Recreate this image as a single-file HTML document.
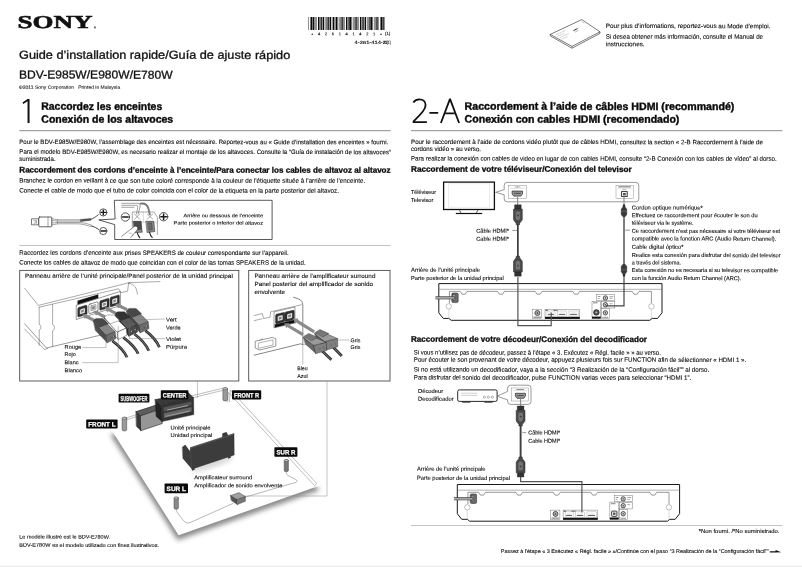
<!DOCTYPE html>
<html><head><meta charset="utf-8"><title>Guide d'installation rapide</title>
<style>
html,body{margin:0;padding:0;background:#fff;}
body{width:802px;height:567px;overflow:hidden;font-family:"Liberation Sans",sans-serif;}
svg{display:block;font-family:"Liberation Sans",sans-serif;will-change:transform;opacity:0.999;text-rendering:geometricPrecision;}
</style></head><body>
<svg width="802" height="567" viewBox="0 0 802 567">
<rect x="0" y="0" width="802" height="567" fill="#fff"/>
<rect x="0" y="565.8" width="802" height="1.2" fill="#ebebeb"/>
<text transform="translate(17.6 27.97) skewY(0.05)" font-size="18.2" font-family="Liberation Serif" stroke="#111" stroke-width="0.55" font-weight="bold" fill="#111" textLength="75.0" lengthAdjust="spacingAndGlyphs">SONY</text>
<text transform="translate(93.9 28.2) skewY(0.05)" font-size="2.6" stroke="#111" stroke-width="0.1" fill="#111">®</text>
<g shape-rendering="crispEdges"><rect x="308" y="17.3" width="1" height="12.3" fill="rgb(144,144,144)"/><rect x="310" y="17.3" width="1" height="12.3" fill="rgb(121,121,121)"/><rect x="311" y="17.3" width="1" height="12.3" fill="rgb(10,10,10)"/><rect x="312" y="17.3" width="1" height="12.3" fill="rgb(121,121,121)"/><rect x="313" y="17.3" width="1" height="12.3" fill="rgb(19,19,19)"/><rect x="314" y="17.3" width="1" height="12.3" fill="rgb(144,144,144)"/><rect x="315" y="17.3" width="1" height="12.3" fill="rgb(144,144,144)"/><rect x="316" y="17.3" width="1" height="12.3" fill="rgb(144,144,144)"/><rect x="318" y="17.3" width="1" height="12.3" fill="rgb(10,10,10)"/><rect x="319" y="17.3" width="1" height="12.3" fill="rgb(121,121,121)"/><rect x="320" y="17.3" width="1" height="12.3" fill="rgb(121,121,121)"/><rect x="321" y="17.3" width="1" height="12.3" fill="rgb(47,47,47)"/><rect x="322" y="17.3" width="1" height="12.3" fill="rgb(144,144,144)"/><rect x="323" y="17.3" width="1" height="12.3" fill="rgb(10,10,10)"/><rect x="324" y="17.3" width="1" height="12.3" fill="rgb(196,196,196)"/><rect x="325" y="17.3" width="1" height="12.3" fill="rgb(164,164,164)"/><rect x="326" y="17.3" width="1" height="12.3" fill="rgb(124,124,124)"/><rect x="327" y="17.3" width="1" height="12.3" fill="rgb(118,118,118)"/><rect x="328" y="17.3" width="1" height="12.3" fill="rgb(52,52,52)"/><rect x="329" y="17.3" width="1" height="12.3" fill="rgb(144,144,144)"/><rect x="330" y="17.3" width="1" height="12.3" fill="rgb(10,10,10)"/><rect x="331" y="17.3" width="1" height="12.3" fill="rgb(200,200,200)"/><rect x="332" y="17.3" width="1" height="12.3" fill="rgb(160,160,160)"/><rect x="333" y="17.3" width="1" height="12.3" fill="rgb(11,11,11)"/><rect x="334" y="17.3" width="1" height="12.3" fill="rgb(144,144,144)"/><rect x="335" y="17.3" width="1" height="12.3" fill="rgb(144,144,144)"/><rect x="336" y="17.3" width="1" height="12.3" fill="rgb(10,10,10)"/><rect x="337" y="17.3" width="1" height="12.3" fill="rgb(121,121,121)"/><rect x="338" y="17.3" width="1" height="12.3" fill="rgb(205,205,205)"/><rect x="339" y="17.3" width="1" height="12.3" fill="rgb(155,155,155)"/><rect x="340" y="17.3" width="1" height="12.3" fill="rgb(134,134,134)"/><rect x="341" y="17.3" width="1" height="12.3" fill="rgb(108,108,108)"/><rect x="342" y="17.3" width="1" height="12.3" fill="rgb(62,62,62)"/><rect x="343" y="17.3" width="1" height="12.3" fill="rgb(144,144,144)"/><rect x="344" y="17.3" width="1" height="12.3" fill="rgb(144,144,144)"/><rect x="346" y="17.3" width="1" height="12.3" fill="rgb(10,10,10)"/><rect x="347" y="17.3" width="1" height="12.3" fill="rgb(138,138,138)"/><rect x="348" y="17.3" width="1" height="12.3" fill="rgb(104,104,104)"/><rect x="349" y="17.3" width="1" height="12.3" fill="rgb(67,67,67)"/><rect x="350" y="17.3" width="1" height="12.3" fill="rgb(10,10,10)"/><rect x="351" y="17.3" width="1" height="12.3" fill="rgb(121,121,121)"/><rect x="352" y="17.3" width="1" height="12.3" fill="rgb(215,215,215)"/><rect x="353" y="17.3" width="1" height="12.3" fill="rgb(145,145,145)"/><rect x="354" y="17.3" width="1" height="12.3" fill="rgb(143,143,143)"/><rect x="355" y="17.3" width="1" height="12.3" fill="rgb(99,99,99)"/><rect x="356" y="17.3" width="1" height="12.3" fill="rgb(72,72,72)"/><rect x="357" y="17.3" width="1" height="12.3" fill="rgb(144,144,144)"/><rect x="358" y="17.3" width="1" height="12.3" fill="rgb(144,144,144)"/><rect x="359" y="17.3" width="1" height="12.3" fill="rgb(242,242,242)"/><rect x="360" y="17.3" width="1" height="12.3" fill="rgb(10,10,10)"/><rect x="361" y="17.3" width="1" height="12.3" fill="rgb(144,144,144)"/><rect x="362" y="17.3" width="1" height="12.3" fill="rgb(94,94,94)"/><rect x="363" y="17.3" width="1" height="12.3" fill="rgb(76,76,76)"/><rect x="364" y="17.3" width="1" height="12.3" fill="rgb(144,144,144)"/><rect x="365" y="17.3" width="1" height="12.3" fill="rgb(10,10,10)"/><rect x="366" y="17.3" width="1" height="12.3" fill="rgb(225,225,225)"/><rect x="367" y="17.3" width="1" height="12.3" fill="rgb(144,144,144)"/><rect x="368" y="17.3" width="1" height="12.3" fill="rgb(144,144,144)"/><rect x="369" y="17.3" width="1" height="12.3" fill="rgb(89,89,89)"/><rect x="370" y="17.3" width="1" height="12.3" fill="rgb(81,81,81)"/><rect x="371" y="17.3" width="1" height="12.3" fill="rgb(10,10,10)"/><rect x="372" y="17.3" width="1" height="12.3" fill="rgb(121,121,121)"/><rect x="373" y="17.3" width="1" height="12.3" fill="rgb(229,229,229)"/><rect x="374" y="17.3" width="1" height="12.3" fill="rgb(144,144,144)"/><rect x="375" y="17.3" width="1" height="12.3" fill="rgb(144,144,144)"/><rect x="376" y="17.3" width="1" height="12.3" fill="rgb(84,84,84)"/><rect x="377" y="17.3" width="1" height="12.3" fill="rgb(86,86,86)"/><rect x="378" y="17.3" width="1" height="12.3" fill="rgb(144,144,144)"/><rect x="380" y="17.3" width="1" height="12.3" fill="rgb(121,121,121)"/><rect x="381" y="17.3" width="1" height="12.3" fill="rgb(10,10,10)"/><rect x="382" y="17.3" width="1" height="12.3" fill="rgb(103,103,103)"/><rect x="383" y="17.3" width="1" height="12.3" fill="rgb(68,68,68)"/><rect x="384" y="17.3" width="1" height="12.3" fill="rgb(144,144,144)"/></g>
<text transform="translate(312.3 36.2) skewY(0.05)" font-size="4.0" stroke="#111" stroke-width="0.12" fill="#111" text-anchor="middle">*</text>
<text transform="translate(319.2 35.3) skewY(0.05)" font-size="4.0" stroke="#111" stroke-width="0.12" fill="#111" text-anchor="middle">4</text>
<text transform="translate(326.0 35.3) skewY(0.05)" font-size="4.0" stroke="#111" stroke-width="0.12" fill="#111" text-anchor="middle">2</text>
<text transform="translate(332.9 35.3) skewY(0.05)" font-size="4.0" stroke="#111" stroke-width="0.12" fill="#111" text-anchor="middle">6</text>
<text transform="translate(339.8 35.3) skewY(0.05)" font-size="4.0" stroke="#111" stroke-width="0.12" fill="#111" text-anchor="middle">1</text>
<text transform="translate(346.7 35.3) skewY(0.05)" font-size="4.0" stroke="#111" stroke-width="0.12" fill="#111" text-anchor="middle">4</text>
<text transform="translate(353.5 35.3) skewY(0.05)" font-size="4.0" stroke="#111" stroke-width="0.12" fill="#111" text-anchor="middle">1</text>
<text transform="translate(360.4 35.3) skewY(0.05)" font-size="4.0" stroke="#111" stroke-width="0.12" fill="#111" text-anchor="middle">4</text>
<text transform="translate(367.3 35.3) skewY(0.05)" font-size="4.0" stroke="#111" stroke-width="0.12" fill="#111" text-anchor="middle">2</text>
<text transform="translate(374.1 35.3) skewY(0.05)" font-size="4.0" stroke="#111" stroke-width="0.12" fill="#111" text-anchor="middle">1</text>
<text transform="translate(381.0 36.2) skewY(0.05)" font-size="4.0" stroke="#111" stroke-width="0.12" fill="#111" text-anchor="middle">*</text>
<text transform="translate(385.0 35.1) skewY(0.05)" font-size="4.4" stroke="#111" stroke-width="0.15" fill="#111" textLength="5.2" lengthAdjust="spacingAndGlyphs">(1)</text>
<text transform="translate(354.6 44.09) skewY(0.05)" font-size="4.6" stroke="#111" stroke-width="0.15" fill="#111" textLength="28.2" lengthAdjust="spacingAndGlyphs">4-261-414-</text>
<text transform="translate(382.9 44.1) skewY(0.05)" font-size="4.6" stroke="#000" stroke-width="0.2" font-weight="bold" fill="#000" textLength="4.2" lengthAdjust="spacingAndGlyphs">21</text>
<text transform="translate(387.1 44.1) skewY(0.05)" font-size="4.6" stroke="#111" stroke-width="0.15" fill="#111" textLength="3.6" lengthAdjust="spacingAndGlyphs">(1)</text>
<text transform="translate(19.0 58.68) skewY(0.05)" font-size="11.6" stroke="#111" stroke-width="0.3" fill="#111" textLength="271.2" lengthAdjust="spacingAndGlyphs">Guide d’installation rapide/Guía de ajuste rápido</text>
<text transform="translate(19.0 78.53) skewY(0.05)" font-size="11.6" stroke="#111" stroke-width="0.3" fill="#111" textLength="153.6" lengthAdjust="spacingAndGlyphs">BDV-E985W/E980W/E780W</text>
<text transform="translate(19.0 88.78) skewY(0.05)" font-size="4.6" stroke="#222" stroke-width="0.1" fill="#222" textLength="55.0" lengthAdjust="spacingAndGlyphs">©2011 Sony Corporation</text>
<text transform="translate(78.2 88.78) skewY(0.05)" font-size="4.6" stroke="#222" stroke-width="0.1" fill="#222" textLength="42.0" lengthAdjust="spacingAndGlyphs">Printed in Malaysia</text>
<path d="M27.55 99.0H29.55V123H27.55V101.2L23.3 104.0L22.5 102.6Z" fill="#111"/>
<text transform="translate(41.3 109.85) skewY(0.05)" font-size="10.7" stroke="#0a0a0a" stroke-width="0.4" font-weight="bold" fill="#0a0a0a" textLength="120.9" lengthAdjust="spacingAndGlyphs">Raccordez les enceintes</text>
<text transform="translate(41.3 122.64) skewY(0.05)" font-size="10.7" stroke="#0a0a0a" stroke-width="0.4" font-weight="bold" fill="#0a0a0a" textLength="131.9" lengthAdjust="spacingAndGlyphs">Conexión de los altavoces</text>
<rect x="19.3" y="130.2" width="371.4" height="1" fill="#8c8c8c"/>
<text transform="translate(19.3 143.94) skewY(0.05)" font-size="6.3" stroke="#0a0a0a" stroke-width="0.1" fill="#0a0a0a" textLength="368.9" lengthAdjust="spacingAndGlyphs">Pour le BDV-E985W/E980W, l’assemblage des enceintes est nécessaire. Reportez-vous au « Guide d’installation des enceintes » fourni.</text>
<text transform="translate(19.3 153.84) skewY(0.05)" font-size="6.3" stroke="#0a0a0a" stroke-width="0.1" fill="#0a0a0a" textLength="371.7" lengthAdjust="spacingAndGlyphs">Para el modelo BDV-E985W/E980W, es necesario realizar el montaje de los altavoces. Consulte la “Guía de instalación de los altavoces”</text>
<text transform="translate(19.3 160.88) skewY(0.05)" font-size="6.3" stroke="#0a0a0a" stroke-width="0.1" fill="#0a0a0a" textLength="36.3" lengthAdjust="spacingAndGlyphs">suministrada.</text>
<text transform="translate(19.3 172.54) skewY(0.05)" font-size="8.1" stroke="#0a0a0a" stroke-width="0.3" font-weight="bold" fill="#0a0a0a" textLength="371.3" lengthAdjust="spacingAndGlyphs">Raccordement des cordons d’enceinte à l’enceinte/Para conectar los cables de altavoz al altavoz</text>
<text transform="translate(19.3 182.55) skewY(0.05)" font-size="6.3" stroke="#0a0a0a" stroke-width="0.1" fill="#0a0a0a" textLength="345.9" lengthAdjust="spacingAndGlyphs">Branchez le cordon en veillant à ce que son tube coloré corresponde à la couleur de l’étiquette située à l’arrière de l’enceinte.</text>
<text transform="translate(19.3 192.46) skewY(0.05)" font-size="6.3" stroke="#0a0a0a" stroke-width="0.1" fill="#0a0a0a" textLength="319.7" lengthAdjust="spacingAndGlyphs">Conecte el cable de modo que el tubo de color coincida con el color de la etiqueta en la parte posterior del altavoz.</text>
<rect x="19.3" y="245.2" width="371.4" height="0.6" fill="#9a9a9a"/>
<text transform="translate(19.3 254.78) skewY(0.05)" font-size="6.3" stroke="#0a0a0a" stroke-width="0.1" fill="#0a0a0a" textLength="269.3" lengthAdjust="spacingAndGlyphs">Raccordez les cordons d’enceinte aux prises SPEAKERS de couleur correspondante sur l’appareil.</text>
<text transform="translate(19.3 264.58) skewY(0.05)" font-size="6.3" stroke="#0a0a0a" stroke-width="0.1" fill="#0a0a0a" textLength="286.3" lengthAdjust="spacingAndGlyphs">Conecte los cables de altavoz de modo que coincidan con el color de las tomas SPEAKERS de la unidad.</text>
<text transform="translate(19.3 538.56) skewY(0.05)" font-size="5.2" stroke="#0a0a0a" stroke-width="0.1" fill="#0a0a0a" textLength="90.7" lengthAdjust="spacingAndGlyphs">Le modèle illustré est le BDV-E780W.</text>
<text transform="translate(19.3 546.84) skewY(0.05)" font-size="5.2" stroke="#0a0a0a" stroke-width="0.1" fill="#0a0a0a" textLength="139.7" lengthAdjust="spacingAndGlyphs">BDV-E780W es el modelo utilizado con fines ilustrativos.</text>
<text transform="translate(605.8 28.03) skewY(0.05)" font-size="6.3" stroke="#0a0a0a" stroke-width="0.1" fill="#0a0a0a" textLength="164.6" lengthAdjust="spacingAndGlyphs">Pour plus d’informations, reportez-vous au Mode d’emploi.</text>
<text transform="translate(605.8 38.63) skewY(0.05)" font-size="6.3" stroke="#0a0a0a" stroke-width="0.1" fill="#0a0a0a" textLength="157.2" lengthAdjust="spacingAndGlyphs">Si desea obtener más información, consulte el Manual de</text>
<text transform="translate(605.8 46.28) skewY(0.05)" font-size="6.3" stroke="#0a0a0a" stroke-width="0.1" fill="#0a0a0a" textLength="38.8" lengthAdjust="spacingAndGlyphs">instrucciones.</text>
<path d="M413.3 102.4C414.6 100.5 416.8 99.3 419.4 99.3C423.1 99.3 425.6 101.6 425.6 105.1C425.6 108.9 422.6 112.3 413.6 121.3V122.2H426.9M429.4 112.9H438.2M445.2 113.3H454.8" fill="none" stroke="#111" stroke-width="1.8" stroke-linejoin="miter"/><path d="M440.9 123L450 98.9L459.1 123" fill="none" stroke="#111" stroke-width="1.8" stroke-linejoin="bevel"/>
<text transform="translate(464.6 109.78) skewY(0.05)" font-size="10.7" stroke="#0a0a0a" stroke-width="0.4" font-weight="bold" fill="#0a0a0a" textLength="269.8" lengthAdjust="spacingAndGlyphs">Raccordement à l’aide de câbles HDMI (recommandé)</text>
<text transform="translate(464.6 122.61) skewY(0.05)" font-size="10.7" stroke="#0a0a0a" stroke-width="0.4" font-weight="bold" fill="#0a0a0a" textLength="214.8" lengthAdjust="spacingAndGlyphs">Conexión con cables HDMI (recomendado)</text>
<rect x="411" y="130.2" width="371.4" height="1" fill="#8c8c8c"/>
<text transform="translate(411.0 143.95) skewY(0.05)" font-size="6.3" stroke="#0a0a0a" stroke-width="0.1" fill="#0a0a0a" textLength="352.0" lengthAdjust="spacingAndGlyphs">Pour le raccordement à l’aide de cordons vidéo plutôt que de câbles HDMI, consultez la section « 2-B Raccordement à l’aide de</text>
<text transform="translate(411.0 151.07) skewY(0.05)" font-size="6.3" stroke="#0a0a0a" stroke-width="0.1" fill="#0a0a0a" textLength="70.0" lengthAdjust="spacingAndGlyphs">cordons vidéo » au verso.</text>
<text transform="translate(411.0 160.54) skewY(0.05)" font-size="6.3" stroke="#0a0a0a" stroke-width="0.1" fill="#0a0a0a" textLength="365.6" lengthAdjust="spacingAndGlyphs">Para realizar la conexión con cables de video en lugar de con cables HDMI, consulte “2-B Conexión con los cables de vídeo” al dorso.</text>
<text transform="translate(411.0 171.7) skewY(0.05)" font-size="8.1" stroke="#0a0a0a" stroke-width="0.3" font-weight="bold" fill="#0a0a0a" textLength="220.6" lengthAdjust="spacingAndGlyphs">Raccordement de votre téléviseur/Conexión del televisor</text>
<text transform="translate(411.0 193.89) skewY(0.05)" font-size="5.7" stroke="#0a0a0a" stroke-width="0.1" fill="#0a0a0a" textLength="25.2" lengthAdjust="spacingAndGlyphs">Téléviseur</text>
<text transform="translate(411.0 201.89) skewY(0.05)" font-size="5.7" stroke="#0a0a0a" stroke-width="0.1" fill="#0a0a0a" textLength="22.4" lengthAdjust="spacingAndGlyphs">Televisor</text>
<text transform="translate(476.2 232.79) skewY(0.05)" font-size="5.7" stroke="#0a0a0a" stroke-width="0.1" fill="#0a0a0a" textLength="32.8" lengthAdjust="spacingAndGlyphs">Câble HDMI*</text>
<text transform="translate(476.2 240.69) skewY(0.05)" font-size="5.7" stroke="#0a0a0a" stroke-width="0.1" fill="#0a0a0a" textLength="32.8" lengthAdjust="spacingAndGlyphs">Cable HDMI*</text>
<text transform="translate(411.0 271.67) skewY(0.05)" font-size="5.7" stroke="#0a0a0a" stroke-width="0.1" fill="#0a0a0a" textLength="69.0" lengthAdjust="spacingAndGlyphs">Arrière de l’unité principale</text>
<text transform="translate(411.0 279.96) skewY(0.05)" font-size="5.7" stroke="#0a0a0a" stroke-width="0.1" fill="#0a0a0a" textLength="92.8" lengthAdjust="spacingAndGlyphs">Parte posterior de la unidad principal</text>
<text transform="translate(631.8 209.57) skewY(0.05)" font-size="5.7" stroke="#0a0a0a" stroke-width="0.1" fill="#0a0a0a" textLength="71.0" lengthAdjust="spacingAndGlyphs">Cordon optique numérique*</text>
<text transform="translate(631.8 217.25) skewY(0.05)" font-size="5.7" stroke="#0a0a0a" stroke-width="0.1" fill="#0a0a0a" textLength="125.8" lengthAdjust="spacingAndGlyphs">Effectuez ce raccordement pour écouter le son du</text>
<text transform="translate(631.8 224.67) skewY(0.05)" font-size="5.7" stroke="#0a0a0a" stroke-width="0.1" fill="#0a0a0a" textLength="61.8" lengthAdjust="spacingAndGlyphs">téléviseur via le système.</text>
<text transform="translate(631.8 232.84) skewY(0.05)" font-size="5.7" stroke="#0a0a0a" stroke-width="0.1" fill="#0a0a0a" textLength="148.2" lengthAdjust="spacingAndGlyphs">Ce raccordement n’est pas nécessaire si votre téléviseur est</text>
<text transform="translate(631.8 240.54) skewY(0.05)" font-size="5.7" stroke="#0a0a0a" stroke-width="0.1" fill="#0a0a0a" textLength="144.4" lengthAdjust="spacingAndGlyphs">compatible avec la fonction ARC (Audio Return Channel).</text>
<text transform="translate(631.8 248.78) skewY(0.05)" font-size="5.7" stroke="#0a0a0a" stroke-width="0.1" fill="#0a0a0a" textLength="51.8" lengthAdjust="spacingAndGlyphs">Cable digital óptico*</text>
<text transform="translate(631.8 257.04) skewY(0.05)" font-size="5.7" stroke="#0a0a0a" stroke-width="0.1" fill="#0a0a0a" textLength="148.8" lengthAdjust="spacingAndGlyphs">Realice esta conexión para disfrutar del sonido del televisor</text>
<text transform="translate(631.8 264.38) skewY(0.05)" font-size="5.7" stroke="#0a0a0a" stroke-width="0.1" fill="#0a0a0a" textLength="49.2" lengthAdjust="spacingAndGlyphs">a través del sistema.</text>
<text transform="translate(631.8 272.04) skewY(0.05)" font-size="5.7" stroke="#0a0a0a" stroke-width="0.1" fill="#0a0a0a" textLength="146.2" lengthAdjust="spacingAndGlyphs">Esta conexión no es necesaria si su televisor es compatible</text>
<text transform="translate(631.8 280.05) skewY(0.05)" font-size="5.7" stroke="#0a0a0a" stroke-width="0.1" fill="#0a0a0a" textLength="109.4" lengthAdjust="spacingAndGlyphs">con la función Audio Return Channel (ARC).</text>
<text transform="translate(411.0 341.8) skewY(0.05)" font-size="8.1" stroke="#0a0a0a" stroke-width="0.3" font-weight="bold" fill="#0a0a0a" textLength="236.0" lengthAdjust="spacingAndGlyphs">Raccordement de votre décodeur/Conexión del decodificador</text>
<text transform="translate(413.8 354.59) skewY(0.05)" font-size="6.3" stroke="#0a0a0a" stroke-width="0.1" fill="#0a0a0a" textLength="247.0" lengthAdjust="spacingAndGlyphs">Si vous n’utilisez pas de décodeur, passez à l’étape « 3. Exécutez « Régl. facile » » au verso.</text>
<text transform="translate(413.8 361.65) skewY(0.05)" font-size="6.3" stroke="#0a0a0a" stroke-width="0.1" fill="#0a0a0a" textLength="332.4" lengthAdjust="spacingAndGlyphs">Pour écouter le son provenant de votre décodeur, appuyez plusieurs fois sur FUNCTION afin de sélectionner « HDMI 1 ».</text>
<text transform="translate(413.8 371.57) skewY(0.05)" font-size="6.3" stroke="#0a0a0a" stroke-width="0.1" fill="#0a0a0a" textLength="295.4" lengthAdjust="spacingAndGlyphs">Si no está utilizando un decodificador, vaya a la sección “3 Realización de la “Configuración fácil”” al dorso.</text>
<text transform="translate(413.8 379.58) skewY(0.05)" font-size="6.3" stroke="#0a0a0a" stroke-width="0.1" fill="#0a0a0a" textLength="277.4" lengthAdjust="spacingAndGlyphs">Para disfrutar del sonido del decodificador, pulse FUNCTION varias veces para seleccionar “HDMI 1”.</text>
<text transform="translate(418.0 392.89) skewY(0.05)" font-size="5.7" stroke="#0a0a0a" stroke-width="0.1" fill="#0a0a0a" textLength="25.2" lengthAdjust="spacingAndGlyphs">Décodeur</text>
<text transform="translate(418.0 400.78) skewY(0.05)" font-size="5.7" stroke="#0a0a0a" stroke-width="0.1" fill="#0a0a0a" textLength="35.6" lengthAdjust="spacingAndGlyphs">Decodificador</text>
<text transform="translate(528.2 434.59) skewY(0.05)" font-size="5.7" stroke="#0a0a0a" stroke-width="0.1" fill="#0a0a0a" textLength="32.0" lengthAdjust="spacingAndGlyphs">Câble HDMI*</text>
<text transform="translate(528.2 442.79) skewY(0.05)" font-size="5.7" stroke="#0a0a0a" stroke-width="0.1" fill="#0a0a0a" textLength="32.0" lengthAdjust="spacingAndGlyphs">Cable HDMI*</text>
<text transform="translate(417.0 470.67) skewY(0.05)" font-size="5.7" stroke="#0a0a0a" stroke-width="0.1" fill="#0a0a0a" textLength="68.6" lengthAdjust="spacingAndGlyphs">Arrière de l’unité principale</text>
<text transform="translate(417.0 479.86) skewY(0.05)" font-size="5.7" stroke="#0a0a0a" stroke-width="0.1" fill="#0a0a0a" textLength="93.0" lengthAdjust="spacingAndGlyphs">Parte posterior de la unidad principal</text>
<rect x="411" y="525.3" width="371.4" height="0.6" fill="#9a9a9a"/>
<text transform="translate(698.8 532.96) skewY(0.05)" font-size="5.7" stroke="#0a0a0a" stroke-width="0.1" fill="#0a0a0a" textLength="80.6" lengthAdjust="spacingAndGlyphs">*Non fourni. /*No suministrado.</text>
<text transform="translate(500.8 552.88) skewY(0.05)" font-size="5.5" stroke="#0a0a0a" stroke-width="0.1" fill="#0a0a0a" textLength="268.2" lengthAdjust="spacingAndGlyphs">Passez à l’étape « 3 Exécutez « Régl. facile » »/Continúe con el paso “3 Realización de la “Configuración fácil””</text>
<path d="M769.8 551.3H775.6V550.0L781.2 552.3L775.6 552.6H769.8Z" fill="#111"/>
<g stroke-linejoin="round" stroke-linecap="round">
<rect x="31.9" y="218.8" width="6.9" height="6.0" fill="#fff" stroke="#222" stroke-width="0.6"/>
<path d="M33.8 220.4H36.6V223.2H33.8M35.0 221.8H36.6" fill="none" stroke="#444" stroke-width="0.4"/>
<rect x="38.8" y="217.0" width="13.0" height="9.8" rx="0.9" fill="#fff" stroke="#222" stroke-width="0.7"/>
<line x1="48.0" y1="217.2" x2="48.0" y2="226.6" stroke="#444" stroke-width="0.5"/>
<path d="M51.8 218.6C54 218.8 55.4 219.6 57.4 219.8M51.8 220.6C54 220.6 55.6 220.8 57.4 221.0" fill="none" stroke="#333" stroke-width="0.45"/>
<path d="M51.8 223.0C54 223.0 55.6 222.6 57.4 222.4M51.8 225.0C54 224.8 55.4 224.0 57.4 223.8" fill="none" stroke="#333" stroke-width="0.45"/>
<path d="M57.4 219.8H80.8M57.4 221.1H80.8" fill="none" stroke="#333" stroke-width="0.45"/>
<path d="M57.4 222.5H79C83 222.6 88 223.6 92.0 225.4M57.4 223.8H78C82 224.0 87 225.2 91.4 226.8" fill="none" stroke="#333" stroke-width="0.45"/>
<path d="M80.8 219.4L90.6 218.6L90.9 220.2L80.8 221.5Z" fill="#555" stroke="#222" stroke-width="0.4"/>
<path d="M90.8 219.3C93.6 218.6 95.8 216.8 98.2 214.8" fill="none" stroke="#333" stroke-width="0.9"/>
<path d="M91.8 226.0C94.4 226.8 96.6 228.0 98.8 229.5" fill="none" stroke="#333" stroke-width="0.9"/>
<circle cx="103.3" cy="212.4" r="3.6" fill="#fff" stroke="#333" stroke-width="0.8"/>
<line x1="101.0" y1="212.4" x2="105.6" y2="212.4" stroke="#1a1a1a" stroke-width="1.4"/>
<line x1="103.3" y1="210.1" x2="103.3" y2="214.7" stroke="#1a1a1a" stroke-width="1.4"/>
<circle cx="103.3" cy="231.0" r="3.6" fill="#fff" stroke="#333" stroke-width="0.8"/>
<line x1="101.0" y1="231.0" x2="105.6" y2="231.0" stroke="#1a1a1a" stroke-width="1.4"/>
<path d="M114.7 200.3H272.1V239.5H114.7V224.6L98.8 219.9L114.7 219.0Z" fill="#fff" stroke="#222" stroke-width="0.75"/>
<circle cx="125.4" cy="217.0" r="4.2" fill="#fff" stroke="#333" stroke-width="0.8"/>
<line x1="122.6" y1="217.0" x2="128.2" y2="217.0" stroke="#1a1a1a" stroke-width="1.5"/>
<circle cx="163.6" cy="216.7" r="4.2" fill="#fff" stroke="#333" stroke-width="0.8"/>
<line x1="160.8" y1="216.7" x2="166.4" y2="216.7" stroke="#1a1a1a" stroke-width="1.5"/>
<line x1="163.6" y1="213.9" x2="163.6" y2="219.5" stroke="#1a1a1a" stroke-width="1.5"/>
<path d="M132.3 234.6V212.0H154.0L157.4 217.4V234.6" fill="#fff" stroke="#555" stroke-width="0.5"/>
<path d="M143.4 212.0V222.2M132.3 222.2H157.4" fill="none" stroke="#999" stroke-width="0.35"/>
<path d="M121.7 203.3H137.0C139.8 203.3 140.6 204.8 140.0 207.0L138.2 214.0" fill="none" stroke="#333" stroke-width="0.45"/>
<path d="M121.7 205.3H135.6C137.8 205.3 138.2 206.6 137.6 208.2L136.4 214.0" fill="none" stroke="#333" stroke-width="0.45"/>
<path d="M121.7 207.3H134.0" fill="none" stroke="#333" stroke-width="0.45"/>
<path d="M140.4 203.6C145.0 203.0 147.6 205.6 148.4 208.6L149.8 214.4" fill="none" stroke="#777" stroke-width="1.9"/>
<path d="M134.6 214.0L139.8 219.2M139.8 214.0L134.6 219.2" fill="none" stroke="#444" stroke-width="0.45"/>
<path d="M133.3 221.3H141.2L141.8 229.2L134.2 230.0Z" fill="#4a4a4a" stroke="#1a1a1a" stroke-width="0.5"/>
<path d="M134.2 230.0L141.8 229.2L142.4 232.2L135.0 232.8Z" fill="#888" stroke="#1a1a1a" stroke-width="0.4"/>
<path d="M147.4 214.2L152.6 219.0M152.6 214.2L147.4 219.0" fill="none" stroke="#444" stroke-width="0.45"/>
<path d="M146.2 221.3H153.8L154.8 231.6L147.4 232.4Z" fill="#8a8a8a" stroke="#1a1a1a" stroke-width="0.5"/>
<path d="M148.2 223.0L151.6 222.8L152.4 229.6L149.0 230.0Z" fill="#6a6a6a" stroke="#1a1a1a" stroke-width="0.3"/>
<path d="M137.4 232.8C137.8 234.6 138.6 236.4 139.8 237.6" fill="none" stroke="#222" stroke-width="1.1"/>
<path d="M149.6 232.4C150.0 234.4 150.8 236.2 152.2 237.4" fill="none" stroke="#222" stroke-width="1.1"/>
<path d="M121.7 236.2L134.0 226.8C136.0 225.4 138.6 227.2 137.4 229.6L130.8 237.6" fill="#fff" stroke="#333" stroke-width="0.55"/>
<path d="M129.0 233.2C130.6 232.6 132.4 233.6 132.8 235.0" fill="none" stroke="#666" stroke-width="0.4"/>
</g>
<text transform="translate(183.5 217.17) skewY(0.05)" font-size="4.9" stroke="#0a0a0a" stroke-width="0.1" fill="#0a0a0a" textLength="79.5" lengthAdjust="spacingAndGlyphs">Arrière ou dessous de l’enceinte</text>
<text transform="translate(173.6 224.56) skewY(0.05)" font-size="4.9" stroke="#0a0a0a" stroke-width="0.1" fill="#0a0a0a" textLength="89.4" lengthAdjust="spacingAndGlyphs">Parte posterior o inferior del altavoz</text>
<rect x="19.7" y="270.4" width="219.1" height="110.6" fill="#fff" stroke="#4a4a4a" stroke-width="0.9"/>
<text transform="translate(25.0 277.71) skewY(0.05)" font-size="5.9" stroke="#0a0a0a" stroke-width="0.1" fill="#0a0a0a" textLength="207.8" lengthAdjust="spacingAndGlyphs">Panneau arrière de l’unité principale/Panel posterior de la unidad principal</text>
<g stroke-linejoin="round" stroke-linecap="round">
<path d="M24.6 288.2L38.4 305.4L129.4 282.6" fill="none" stroke="#444" stroke-width="0.45"/>
<path d="M39.2 307.2L118.6 288.8L121 292.6L127.6 291.2L128.6 282.9" fill="none" stroke="#444" stroke-width="0.45"/>
<path d="M129.4 282.6L160 281.6" fill="none" stroke="#444" stroke-width="0.45"/>
<path d="M128.6 283.4C134 283.6 137 288 137.4 294" fill="none" stroke="#444" stroke-width="0.45"/>
<path d="M24.6 323.8L46.4 348.0L96 336.2L123 330.6" fill="none" stroke="#333" stroke-width="0.5"/>
<path d="M24.6 329.0L44.6 349.6L47.6 348.4" fill="none" stroke="#444" stroke-width="0.45"/>
<path d="M39.2 307.2V324.4C41.4 324.6 41.4 329.6 39.2 330V345.4" fill="none" stroke="#444" stroke-width="0.45"/>
<path d="M52.6 304.4V324.6C55 325 55 330.4 52.6 330.8V346.4" fill="none" stroke="#444" stroke-width="0.45"/>
<path d="M76.6 305.2L120.4 291.4V305.6L76.6 319.4Z" fill="#fff" stroke="#333" stroke-width="0.5"/>
<path d="M77.6 300.8L98.2 294.4V298.0L77.6 304.4Z" fill="#111" stroke="#1a1a1a" stroke-width="0.2"/>
<g transform="translate(82.4 311.0) skewY(-17.5)">
<rect x="-4.6" y="-4.6" width="9.2" height="9.4" rx="1.2" fill="#333" stroke="#222" stroke-width="0.5"/>
<rect x="-2.6" y="-2.4" width="5.2" height="5.0" rx="0.6" fill="#fff" stroke="#222" stroke-width="0.3"/>
<rect x="-1.2" y="-1.0" width="2.4" height="2.2" fill="#888" stroke="#333" stroke-width="0.2"/>
</g>
<g transform="translate(93.4 307.6) skewY(-17.5)">
<rect x="-4.6" y="-4.6" width="9.2" height="9.4" rx="1.2" fill="#fff" stroke="#222" stroke-width="0.5"/>
<rect x="-2.6" y="-2.4" width="5.2" height="5.0" rx="0.6" fill="#ddd" stroke="#222" stroke-width="0.3"/>
<rect x="-1.2" y="-1.0" width="2.4" height="2.2" fill="#888" stroke="#333" stroke-width="0.2"/>
</g>
<g transform="translate(104.4 304.2) skewY(-17.5)">
<rect x="-4.6" y="-4.6" width="9.2" height="9.4" rx="1.2" fill="#333" stroke="#222" stroke-width="0.5"/>
<rect x="-2.6" y="-2.4" width="5.2" height="5.0" rx="0.6" fill="#fff" stroke="#222" stroke-width="0.3"/>
<rect x="-1.2" y="-1.0" width="2.4" height="2.2" fill="#888" stroke="#333" stroke-width="0.2"/>
</g>
<g transform="translate(114.7 300.8) skewY(-17.5)">
<rect x="-4.6" y="-4.6" width="9.2" height="9.4" rx="1.2" fill="#333" stroke="#222" stroke-width="0.5"/>
<rect x="-2.6" y="-2.4" width="5.2" height="5.0" rx="0.6" fill="#fff" stroke="#222" stroke-width="0.3"/>
<rect x="-1.2" y="-1.0" width="2.4" height="2.2" fill="#888" stroke="#333" stroke-width="0.2"/>
</g>
<polygon points="95.5,319.2 87.0,315.0 87.7,313.7 82.2,314.4 85.0,319.1 85.6,317.9 94.1,322.0" fill="#8a8a8a"/>
<polygon points="105.7,315.6 98.2,311.7 98.9,310.4 93.4,311.0 96.1,315.8 96.8,314.5 104.3,318.4" fill="#8a8a8a"/>
<polygon points="117.1,312.2 109.4,308.3 110.1,307.0 104.6,307.6 107.3,312.4 108.0,311.1 115.7,315.0" fill="#8a8a8a"/>
<polygon points="127.7,308.2 120.2,304.6 120.8,303.3 115.4,304.0 118.2,308.7 118.8,307.4 126.3,311.0" fill="#8a8a8a"/>
<path d="M145.4 330.6C149.4 333.6 155.9 339.2 159.4 347.2" fill="none" stroke="#2e2e2e" stroke-width="2.8" stroke-linecap="butt"/>
<path d="M145.4 330.6C149.4 333.6 155.9 339.2 159.4 347.2" fill="none" stroke="#8a8a8a" stroke-width="0.8" stroke-linecap="butt"/>
<polygon points="126.8,311.6 139.5,325.4 140.4,332.8 128.6,320.6" fill="#4e4e4e" stroke="#222" stroke-width="0.4"/>
<polygon points="126.8,311.6 136.2,310.0 148.2,321.6 139.5,325.4" fill="#868686" stroke="#222" stroke-width="0.4"/>
<polygon points="139.5,325.4 148.2,321.6 149.0,328.6 140.4,332.8" fill="#6e6e6e" stroke="#222" stroke-width="0.4"/>
<polygon points="126.6,310.6 129.0,308.4 136.0,308.4 141.6,313.8 132.4,317.2" fill="#484848" stroke="#222" stroke-width="0.35"/>
<circle cx="143.0" cy="328.0" r="1.1" fill="#a0a0a0" stroke="#222" stroke-width="0.35"/>
<circle cx="146.6" cy="326.2" r="1.1" fill="#a0a0a0" stroke="#222" stroke-width="0.35"/>
<path d="M134.4 334.0C138.4 337.0 145.3 342.8 148.8 350.8" fill="none" stroke="#2e2e2e" stroke-width="2.8" stroke-linecap="butt"/>
<path d="M134.4 334.0C138.4 337.0 145.3 342.8 148.8 350.8" fill="none" stroke="#8a8a8a" stroke-width="0.8" stroke-linecap="butt"/>
<polygon points="115.4,315.0 128.1,328.8 129.0,336.2 117.2,324.0" fill="#363636" stroke="#222" stroke-width="0.4"/>
<polygon points="115.4,315.0 124.8,313.4 136.8,325.0 128.1,328.8" fill="#5a5a5a" stroke="#222" stroke-width="0.4"/>
<polygon points="128.1,328.8 136.8,325.0 137.6,332.0 129.0,336.2" fill="#4a4a4a" stroke="#222" stroke-width="0.4"/>
<polygon points="115.2,314.0 117.6,311.8 124.6,311.8 130.2,317.2 121.0,320.6" fill="#333" stroke="#222" stroke-width="0.35"/>
<circle cx="131.6" cy="331.4" r="1.1" fill="#a0a0a0" stroke="#222" stroke-width="0.35"/>
<circle cx="135.2" cy="329.6" r="1.1" fill="#a0a0a0" stroke="#222" stroke-width="0.35"/>
<path d="M123.4 337.4C127.4 340.4 134.7 345.8 138.2 353.8" fill="none" stroke="#2e2e2e" stroke-width="2.8" stroke-linecap="butt"/>
<path d="M123.4 337.4C127.4 340.4 134.7 345.8 138.2 353.8" fill="none" stroke="#8a8a8a" stroke-width="0.8" stroke-linecap="butt"/>
<polygon points="104.8,318.2 117.5,332.0 118.4,339.4 106.6,327.2" fill="#fff" stroke="#222" stroke-width="0.4"/>
<polygon points="104.8,318.2 114.2,316.6 126.2,328.2 117.5,332.0" fill="#fff" stroke="#222" stroke-width="0.4"/>
<polygon points="117.5,332.0 126.2,328.2 127.0,335.2 118.4,339.4" fill="#fff" stroke="#222" stroke-width="0.4"/>
<polygon points="104.6,317.2 107.0,315.0 114.0,315.0 119.6,320.4 110.4,323.8" fill="#fff" stroke="#222" stroke-width="0.35"/>
<path d="M112.4 340.8C116.4 343.8 123.5 349.2 127.0 357.2" fill="none" stroke="#2e2e2e" stroke-width="2.8" stroke-linecap="butt"/>
<path d="M112.4 340.8C116.4 343.8 123.5 349.2 127.0 357.2" fill="none" stroke="#8a8a8a" stroke-width="0.8" stroke-linecap="butt"/>
<polygon points="93.7,321.6 106.4,335.4 107.3,342.8 95.5,330.6" fill="#4e4e4e" stroke="#222" stroke-width="0.4"/>
<polygon points="93.7,321.6 103.1,320.0 115.1,331.6 106.4,335.4" fill="#868686" stroke="#222" stroke-width="0.4"/>
<polygon points="106.4,335.4 115.1,331.6 115.9,338.6 107.3,342.8" fill="#6e6e6e" stroke="#222" stroke-width="0.4"/>
<polygon points="93.5,320.6 95.9,318.4 102.9,318.4 108.5,323.8 99.3,327.2" fill="#484848" stroke="#222" stroke-width="0.35"/>
<circle cx="109.9" cy="338.0" r="1.1" fill="#a0a0a0" stroke="#222" stroke-width="0.35"/>
<circle cx="113.5" cy="336.2" r="1.1" fill="#a0a0a0" stroke="#222" stroke-width="0.35"/>
<path d="M82.6 347.6H106V333" fill="none" stroke="#777" stroke-width="0.45"/>
<path d="M82.6 362.6H118.2V326.8" fill="none" stroke="#777" stroke-width="0.45"/>
<path d="M164.6 338.6H129.4V323.2" fill="none" stroke="#777" stroke-width="0.45"/>
<path d="M164.6 319.0L140.2 319.8" fill="none" stroke="#777" stroke-width="0.45"/>
</g>
<text transform="translate(166.0 321.5) skewY(0.05)" font-size="5.5" stroke="#0a0a0a" stroke-width="0.1" fill="#0a0a0a" textLength="10.6" lengthAdjust="spacingAndGlyphs">Vert</text>
<text transform="translate(166.0 329.49) skewY(0.05)" font-size="5.5" stroke="#0a0a0a" stroke-width="0.1" fill="#0a0a0a" textLength="14.6" lengthAdjust="spacingAndGlyphs">Verde</text>
<text transform="translate(166.0 340.89) skewY(0.05)" font-size="5.5" stroke="#0a0a0a" stroke-width="0.1" fill="#0a0a0a" textLength="15.0" lengthAdjust="spacingAndGlyphs">Violet</text>
<text transform="translate(166.0 348.69) skewY(0.05)" font-size="5.5" stroke="#0a0a0a" stroke-width="0.1" fill="#0a0a0a" textLength="21.0" lengthAdjust="spacingAndGlyphs">Púrpura</text>
<text transform="translate(64.6 348.69) skewY(0.05)" font-size="5.5" stroke="#0a0a0a" stroke-width="0.1" fill="#0a0a0a" textLength="16.6" lengthAdjust="spacingAndGlyphs">Rouge</text>
<text transform="translate(64.6 355.9) skewY(0.05)" font-size="5.5" stroke="#0a0a0a" stroke-width="0.1" fill="#0a0a0a" textLength="11.2" lengthAdjust="spacingAndGlyphs">Rojo</text>
<text transform="translate(64.6 364.19) skewY(0.05)" font-size="5.5" stroke="#0a0a0a" stroke-width="0.1" fill="#0a0a0a" textLength="14.0" lengthAdjust="spacingAndGlyphs">Blanc</text>
<text transform="translate(64.6 372.29) skewY(0.05)" font-size="5.5" stroke="#0a0a0a" stroke-width="0.1" fill="#0a0a0a" textLength="17.6" lengthAdjust="spacingAndGlyphs">Blanco</text>
<rect x="248.7" y="270.4" width="141.3" height="110.6" fill="#fff" stroke="#4a4a4a" stroke-width="0.9"/>
<text transform="translate(254.4 277.85) skewY(0.05)" font-size="6.0" stroke="#0a0a0a" stroke-width="0.1" fill="#0a0a0a" textLength="121.0" lengthAdjust="spacingAndGlyphs">Panneau arrière de l’amplificateur surround</text>
<text transform="translate(254.4 285.95) skewY(0.05)" font-size="6.0" stroke="#0a0a0a" stroke-width="0.1" fill="#0a0a0a" textLength="118.6" lengthAdjust="spacingAndGlyphs">Panel posterior del amplificador de sonido</text>
<text transform="translate(254.4 293.89) skewY(0.05)" font-size="6.0" stroke="#0a0a0a" stroke-width="0.1" fill="#0a0a0a" textLength="30.6" lengthAdjust="spacingAndGlyphs">envolvente</text>
<g stroke-linejoin="round" stroke-linecap="round">
<path d="M293.6 297.2L298.6 299.0C301.4 300.2 302.8 302.2 302.8 305.2V344.4" fill="none" stroke="#333" stroke-width="0.6"/>
<path d="M254.2 315.4L262.4 313.6L263.6 318.6L270 317.2L270.6 311.8L301.4 304.8" fill="none" stroke="#444" stroke-width="0.45"/>
<path d="M254.2 320.6L262 318.8" fill="none" stroke="#444" stroke-width="0.45"/>
<path d="M254.2 355.2L300.6 343.8L302.2 344.4" fill="none" stroke="#333" stroke-width="0.6"/>
<path d="M255.6 341.2L272.4 337.4L275.8 338.8V346.0L259.6 350.0L255.6 348.2Z" fill="#fff" stroke="#333" stroke-width="0.5"/>
<path d="M258.8 343.0L273.0 339.8V345.0L258.8 348.2Z" fill="#fff" stroke="#444" stroke-width="0.4"/>
<path d="M259.4 340.2L262.2 339.6V338.4" fill="none" stroke="#555" stroke-width="0.35"/>
<path d="M274.4 311.8L295.0 307.0V323.0L274.4 327.8Z" fill="#fff" stroke="#333" stroke-width="0.45"/>
<path d="M274.8 324.4L294.6 319.8V322.8L274.8 327.4Z" fill="#111" stroke="#1a1a1a" stroke-width="0.2"/>
<g transform="translate(280.2 318.0) skewY(-14)">
<rect x="-4.6" y="-4.6" width="9.2" height="9.4" rx="1.2" fill="#333" stroke="#222" stroke-width="0.5"/>
<rect x="-2.6" y="-2.4" width="5.2" height="5.0" rx="0.6" fill="#fff" stroke="#222" stroke-width="0.3"/>
<rect x="-1.2" y="-1.0" width="2.4" height="2.2" fill="#888" stroke="#333" stroke-width="0.2"/>
</g>
<g transform="translate(289.6 315.8) skewY(-14)">
<rect x="-4.6" y="-4.6" width="9.2" height="9.4" rx="1.2" fill="#333" stroke="#222" stroke-width="0.5"/>
<rect x="-2.6" y="-2.4" width="5.2" height="5.0" rx="0.6" fill="#fff" stroke="#222" stroke-width="0.3"/>
<rect x="-1.2" y="-1.0" width="2.4" height="2.2" fill="#888" stroke="#333" stroke-width="0.2"/>
</g>
<polygon points="303.8,333.2 288.8,324.4 289.5,323.2 284.0,323.4 286.4,328.3 287.2,327.1 302.2,336.0" fill="#8a8a8a"/>
<polygon points="315.0,330.4 297.8,319.8 298.5,318.6 293.0,318.8 295.4,323.8 296.1,322.6 313.4,333.2" fill="#8a8a8a"/>
<path d="M333.0 347.0L341.8 356.0" fill="none" stroke="#2e2e2e" stroke-width="2.8" stroke-linecap="butt"/>
<path d="M333.0 347.0L341.8 356.0" fill="none" stroke="#8a8a8a" stroke-width="0.8" stroke-linecap="butt"/>
<polygon points="314.8,333.6 325.2,341.8 327.2,349.8 316.8,340.4" fill="#6a6a6a" stroke="#222" stroke-width="0.4"/>
<polygon points="314.8,333.6 319.8,330.8 337.6,338.6 325.2,341.8" fill="#9a9a9a" stroke="#222" stroke-width="0.4"/>
<polygon points="325.2,341.8 337.6,338.6 337.8,346.8 327.2,349.8" fill="#808080" stroke="#222" stroke-width="0.4"/>
<polygon points="315.2,332.4 320.0,329.6 328.8,333.6 323.0,336.8" fill="#777" stroke="#222" stroke-width="0.35"/>
<circle cx="330.2" cy="345.2" r="0.9" fill="#bbb" stroke="#222" stroke-width="0.3"/>
<circle cx="334.4" cy="344.0" r="0.9" fill="#bbb" stroke="#222" stroke-width="0.3"/>
<path d="M321.6 350.6L331.4 359.8" fill="none" stroke="#2e2e2e" stroke-width="2.8" stroke-linecap="butt"/>
<path d="M321.6 350.6L331.4 359.8" fill="none" stroke="#8a8a8a" stroke-width="0.8" stroke-linecap="butt"/>
<polygon points="303.6,337.4 314.0,345.6 316.0,353.6 305.6,344.2" fill="#6a6a6a" stroke="#222" stroke-width="0.4"/>
<polygon points="303.6,337.4 308.6,334.6 326.4,342.4 314.0,345.6" fill="#9a9a9a" stroke="#222" stroke-width="0.4"/>
<polygon points="314.0,345.6 326.4,342.4 326.6,350.6 316.0,353.6" fill="#808080" stroke="#222" stroke-width="0.4"/>
<polygon points="304.0,336.2 308.8,333.4 317.6,337.4 311.8,340.6" fill="#777" stroke="#222" stroke-width="0.35"/>
<circle cx="319.0" cy="349.0" r="0.9" fill="#bbb" stroke="#222" stroke-width="0.3"/>
<circle cx="323.2" cy="347.8" r="0.9" fill="#bbb" stroke="#222" stroke-width="0.3"/>
<path d="M348.6 340.0H330.0" fill="none" stroke="#777" stroke-width="0.45"/>
<path d="M302.8 364.2V344.6H316.2" fill="none" stroke="#777" stroke-width="0.45"/>
</g>
<text transform="translate(350.6 342.3) skewY(0.05)" font-size="5.5" stroke="#0a0a0a" stroke-width="0.1" fill="#0a0a0a" textLength="9.8" lengthAdjust="spacingAndGlyphs">Gris</text>
<text transform="translate(350.6 348.9) skewY(0.05)" font-size="5.5" stroke="#0a0a0a" stroke-width="0.1" fill="#0a0a0a" textLength="9.8" lengthAdjust="spacingAndGlyphs">Gris</text>
<text transform="translate(297.2 370.3) skewY(0.05)" font-size="5.5" stroke="#0a0a0a" stroke-width="0.1" fill="#0a0a0a" textLength="10.4" lengthAdjust="spacingAndGlyphs">Bleu</text>
<text transform="translate(297.2 378.1) skewY(0.05)" font-size="5.5" stroke="#0a0a0a" stroke-width="0.1" fill="#0a0a0a" textLength="10.4" lengthAdjust="spacingAndGlyphs">Azul</text>
<defs><filter id="sh" x="-20%" y="-20%" width="140%" height="140%"><feGaussianBlur stdDeviation="2.9"/></filter></defs>
<path d="M197.4 381V412.6H193.4" fill="none" stroke="#8a8a8a" stroke-width="0.5"/>
<polygon points="110.5,435 227,391.8 319.6,490.2 177.6,540.2" fill="#6e6e6e" filter="url(#sh)" opacity="0.8"/>
<polygon points="111.5,430 228,386.8 320.6,485.2 178.6,535.2" fill="#fff"/>
<path d="M327.0 381V496.0H244.6" fill="none" stroke="#8a8a8a" stroke-width="0.5"/>
<g stroke-linejoin="round" stroke-linecap="round">
<path d="M124.6 418.6L192.6 395.6L226.0 387.4" fill="none" stroke="#707070" stroke-width="0.45"/>
<path d="M124.6 420.6L140 415.4M160.4 408.4L193.2 397.6L226.0 389.6" fill="none" stroke="#707070" stroke-width="0.45"/>
<path d="M229.4 401.8L230.4 390.0L316.6 483.4L314.6 486.2" fill="none" stroke="#707070" stroke-width="0.45"/>
<path d="M227.6 402.0L228.4 392.4L313.6 484.6" fill="none" stroke="#707070" stroke-width="0.45"/>
<path d="M286.3 471.0V473.6C286.6 476 297.6 479.4 297.2 481.2C296.8 482.6 294 483 290 484L245.0 497.2" fill="none" stroke="#707070" stroke-width="0.5"/>
<path d="M176.2 508.6V510.2C176.4 512.2 183.4 520.6 185.0 522.0C186.6 523.4 188.6 523.2 191.0 522.2L233.0 503.4" fill="none" stroke="#707070" stroke-width="0.5"/>
<polygon points="136.2,411.6 157.6,404.6 162.0,408.6 140.6,415.8" fill="#5c5c5c" stroke="#222" stroke-width="0.6"/>
<polygon points="136.2,411.6 140.6,415.8 141.0,430.6 136.6,426.4" fill="#3a3a3a" stroke="#222" stroke-width="0.6"/>
<polygon points="140.6,415.8 162.0,408.6 162.2,423.6 141.0,430.6" fill="#969696" stroke="#222" stroke-width="0.6"/>
<polygon points="155.2,399.6 188.4,392.8 193.6,397.8 160.6,404.8" fill="#3a3a3a" stroke="#1a1a1a" stroke-width="0.4"/>
<polygon points="155.2,399.6 160.6,404.8 162.0,421.6 156.2,416.4" fill="#222" stroke="#1a1a1a" stroke-width="0.4"/>
<polygon points="160.6,404.8 193.6,397.8 193.8,414.6 162.0,421.6" fill="#333" stroke="#1a1a1a" stroke-width="0.4"/>
<polygon points="163.6,407.6 191.4,401.6 191.6,405.2 163.8,411.4" fill="#555"/>
<polygon points="163.8,413.2 191.6,407.0 191.6,411.6 164.0,418.0" fill="#666"/>
<path d="M167.6 410.0L187.6 405.6" fill="none" stroke="#aaa" stroke-width="0.9"/>
<path d="M166.0 416.2L189.6 411.0" fill="none" stroke="#999" stroke-width="1.1"/>
<path d="M122.1 418.2A2.3 1 0 0 1 126.69999999999999 418.2V429.8A2.3 1.2 0 0 1 122.1 429.8Z" fill="#9a9a9a" stroke="#333" stroke-width="0.45"/>
<ellipse cx="124.39999999999999" cy="418.2" rx="2.3" ry="1" fill="#cfcfcf" stroke="#333" stroke-width="0.4"/>
<path d="M222.9 388.8A2.3 1 0 0 1 227.5 388.8V399.8A2.3 1.2 0 0 1 222.9 399.8Z" fill="#9a9a9a" stroke="#333" stroke-width="0.45"/>
<ellipse cx="225.20000000000002" cy="388.8" rx="2.3" ry="1" fill="#cfcfcf" stroke="#333" stroke-width="0.4"/>
<path d="M284.2 460.6A2.1 1 0 0 1 288.4 460.6V470.40000000000003A2.1 1.2 0 0 1 284.2 470.40000000000003Z" fill="#777" stroke="#333" stroke-width="0.45"/>
<ellipse cx="286.3" cy="460.6" rx="2.1" ry="1" fill="#cfcfcf" stroke="#333" stroke-width="0.4"/>
<path d="M174.0 498.0A2.2 1 0 0 1 178.4 498.0V508.0A2.2 1.2 0 0 1 174.0 508.0Z" fill="#8a8a8a" stroke="#333" stroke-width="0.45"/>
<ellipse cx="176.2" cy="498.0" rx="2.2" ry="1" fill="#cfcfcf" stroke="#333" stroke-width="0.4"/>
<ellipse cx="212" cy="463.5" rx="22" ry="4" fill="#bbb" opacity="0.6" transform="rotate(-18 212 463.5)" filter="url(#sh)"/>
<path d="M182.5 447L185.2 445L190 451.6L190.5 447.5L222.4 437.2L222.6 433.6L226.4 432.2L228.0 435.4L234.0 433.5L234.2 455L230.6 456.2V457.6L228.2 458.4V457L194.6 468.2V469.6L192.2 470.4L192 469L183 458.5Z" fill="#3c3c3c" stroke="#222" stroke-width="0.4"/>
<path d="M190.5 447.5L191.6 468.6" fill="none" stroke="#555" stroke-width="0.5"/>
<path d="M190.6 448.2L234.0 434.2" fill="none" stroke="#5e5e5e" stroke-width="0.7"/>
<polygon points="230.6,495.6 239.0,492.6 245.4,496.6 237.0,499.6" fill="#a0a0a0" stroke="#333" stroke-width="0.4"/>
<polygon points="230.6,495.6 237.0,499.6 237.4,504.6 231.4,500.6" fill="#555" stroke="#333" stroke-width="0.4"/>
<polygon points="237.0,499.6 245.4,496.6 245.4,501.2 237.4,504.6" fill="#777" stroke="#333" stroke-width="0.4"/>
</g>
<rect x="118.6" y="393.8" width="30.8" height="8.8" rx="0.8" fill="#0a0a0a"/>
<text transform="translate(120.6 400.99) skewY(0.05)" font-size="7.0" stroke="#fff" stroke-width="0.25" font-weight="bold" fill="#fff" textLength="26.8" lengthAdjust="spacingAndGlyphs">SUBWOOFER</text>
<rect x="160.8" y="390.2" width="27.6" height="9.2" rx="0.8" fill="#0a0a0a"/>
<text transform="translate(162.8 397.39) skewY(0.05)" font-size="6.4" stroke="#fff" stroke-width="0.25" font-weight="bold" fill="#fff" textLength="23.6" lengthAdjust="spacingAndGlyphs">CENTER</text>
<rect x="232.0" y="390.2" width="29.2" height="9.2" rx="0.8" fill="#0a0a0a"/>
<text transform="translate(234.0 397.39) skewY(0.05)" font-size="6.4" stroke="#fff" stroke-width="0.25" font-weight="bold" fill="#fff" textLength="25.2" lengthAdjust="spacingAndGlyphs">FRONT R</text>
<rect x="86.2" y="419.4" width="31.4" height="9.2" rx="0.8" fill="#0a0a0a"/>
<text transform="translate(88.2 426.59) skewY(0.05)" font-size="6.4" stroke="#fff" stroke-width="0.25" font-weight="bold" fill="#fff" textLength="27.4" lengthAdjust="spacingAndGlyphs">FRONT L</text>
<rect x="274.4" y="447.2" width="23.0" height="9.6" rx="0.8" fill="#0a0a0a"/>
<text transform="translate(276.4 454.59) skewY(0.05)" font-size="6.4" stroke="#fff" stroke-width="0.25" font-weight="bold" fill="#fff" textLength="19.0" lengthAdjust="spacingAndGlyphs">SUR R</text>
<rect x="164.6" y="483.4" width="23.4" height="9.8" rx="0.8" fill="#0a0a0a"/>
<text transform="translate(166.6 490.89) skewY(0.05)" font-size="6.4" stroke="#fff" stroke-width="0.25" font-weight="bold" fill="#fff" textLength="19.4" lengthAdjust="spacingAndGlyphs">SUR L</text>
<text transform="translate(170.6 429.48) skewY(0.05)" font-size="5.3" stroke="#0a0a0a" stroke-width="0.1" fill="#0a0a0a" textLength="40.0" lengthAdjust="spacingAndGlyphs">Unité principale</text>
<text transform="translate(170.6 437.08) skewY(0.05)" font-size="5.3" stroke="#0a0a0a" stroke-width="0.1" fill="#0a0a0a" textLength="41.6" lengthAdjust="spacingAndGlyphs">Unidad principal</text>
<text transform="translate(194.2 479.17) skewY(0.05)" font-size="5.3" stroke="#0a0a0a" stroke-width="0.1" fill="#0a0a0a" textLength="58.0" lengthAdjust="spacingAndGlyphs">Amplificateur surround</text>
<text transform="translate(194.2 487.26) skewY(0.05)" font-size="5.3" stroke="#0a0a0a" stroke-width="0.1" fill="#0a0a0a" textLength="88.2" lengthAdjust="spacingAndGlyphs">Amplificador de sonido envolvente</text>
<rect x="443.6" y="182.1" width="50.8" height="27.4" fill="#fff" stroke="#111" stroke-width="1.3"/>
<rect x="448.2" y="183.9" width="41.6" height="23.2" fill="#fff" stroke="#cfcfcf" stroke-width="0.4"/>
<path d="M459.4 209.8L461.0 213.2M478.0 209.8L476.4 213.2" fill="none" stroke="#222" stroke-width="0.7"/>
<path d="M455.8 213.5H482.2" fill="none" stroke="#111" stroke-width="1.2"/>
<path d="M507.2 182.4H635.8A3 3 0 0 1 638.8 185.4V198.8A3 3 0 0 1 635.8 201.8H507.2A3 3 0 0 1 504.2 198.8V194.8L495.6 192.3L504.2 189.7V185.4A3 3 0 0 1 507.2 182.4Z" fill="#fff" stroke="#555" stroke-width="0.6"/>
<rect x="508.4" y="185.4" width="18.2" height="13.0" fill="#fff" stroke="#777" stroke-width="0.4"/>
<path d="M510.2 188.2H524.8" fill="none" stroke="#888" stroke-width="0.3"/>
<path d="M514.6 186.9H520.4M517.5 186.2V187.6" fill="none" stroke="#555" stroke-width="0.4"/>
<path d="M512.1 191.1H522.5V193.8L520.9 196.1H513.7L512.1 193.8Z" fill="#999" stroke="#222" stroke-width="0.7"/>
<path d="M513.9 193.3H520.7" stroke="#333" stroke-width="0.8"/>
<rect x="616.0" y="185.4" width="17.2" height="12.8" fill="#fff" stroke="#777" stroke-width="0.4"/>
<path d="M617.6 188.2H631.6" fill="none" stroke="#888" stroke-width="0.3"/>
<rect x="618.4" y="186.4" width="12.4" height="0.9" fill="#666" stroke="none" stroke-width="0"/>
<rect x="622.2" y="189.4" width="4.0" height="0.7" fill="#999" stroke="none" stroke-width="0"/>
<rect x="621.6" y="191.6" width="5.6" height="4.8" fill="#fff" stroke="#222" stroke-width="0.9"/>
<rect x="623.0" y="193.0" width="2.8" height="2.4" fill="#555" stroke="none" stroke-width="0"/>
<path d="M517.6 196.4V205" fill="none" stroke="#8a8a8a" stroke-width="1.1"/>
<path d="M624.0 196.6V205" fill="none" stroke="#8a8a8a" stroke-width="1.1"/>
<path d="M517.9 224V258" fill="none" stroke="#2e2e2e" stroke-width="1.7"/>
<path d="M518.4 224V258" fill="none" stroke="#8a8a8a" stroke-width="0.5"/>
<path d="M514.6 204.8H521.1999999999999V209.1H514.6Z" fill="#333" stroke="#222" stroke-width="0.4"/>
<path d="M513.5 209.1H522.3V219.8L519.6 223.4V224.8H516.1999999999999V223.4L513.5 219.8Z" fill="#4a4a4a" stroke="#222" stroke-width="0.5" stroke-linejoin="round"/>
<path d="M515.4 211.2H520.4V218.4L519.1 220.6H516.6999999999999L515.4 218.4Z" fill="#747474" stroke="#333" stroke-width="0.3"/>
<circle cx="517.9" cy="215.4" r="0.9" fill="#3a3a3a"/>
<path d="M514.6 276.2H521.1999999999999V271.9H514.6Z" fill="#333" stroke="#222" stroke-width="0.4"/>
<path d="M513.5 271.9H522.3V261.2L519.6 257.6V256.2H516.1999999999999V257.6L513.5 261.2Z" fill="#4a4a4a" stroke="#222" stroke-width="0.5" stroke-linejoin="round"/>
<path d="M515.4 269.8H520.4V262.6L519.1 260.4H516.6999999999999L515.4 262.6Z" fill="#747474" stroke="#333" stroke-width="0.3"/>
<circle cx="517.9" cy="265.6" r="0.9" fill="#3a3a3a"/>
<path d="M512.2 230.4H517.0" fill="none" stroke="#333" stroke-width="0.5"/>
<path d="M624.0 215V265" fill="none" stroke="#3a3a3a" stroke-width="1.3"/>
<path d="M623.0 204.8H625.0V207.60000000000002H623.0Z" fill="#333" stroke="#222" stroke-width="0.4"/>
<path d="M622.3 207.4H625.7L626.8 209.4V214.4L625.3 216.60000000000002H622.7L621.2 214.4V209.4Z" fill="#3a3a3a" stroke="#222" stroke-width="0.4"/>
<path d="M621.3 211.20000000000002H626.7" stroke="#888" stroke-width="0.5"/>
<path d="M623.0 276.2H625.0V273.4H623.0Z" fill="#333" stroke="#222" stroke-width="0.4"/>
<path d="M622.3 273.59999999999997H625.7L626.8 271.59999999999997V266.59999999999997L625.3 264.4H622.7L621.2 266.59999999999997V271.59999999999997Z" fill="#3a3a3a" stroke="#222" stroke-width="0.4"/>
<path d="M621.3 269.8H626.7" stroke="#888" stroke-width="0.5"/>
<path d="M625.2 230.2H630.0" fill="none" stroke="#333" stroke-width="0.5"/>
<path d="M438.8 283.6H662.0V312.8L657.6 318.4H652.2L649.8 320.3H451.2L448.8 318.4H443.2L438.8 312.8Z" fill="#fff" stroke="#1a1a1a" stroke-width="1.0"/>
<path d="M438.8 289.3H662.0" fill="none" stroke="#666" stroke-width="0.5"/>
<path d="M449.4 303.2V291.4H460.2L462.0 294.2H465.2L467.0 291.4H497.6L499.4 294.2H502.6L504.4 291.4H535.2L537.0 294.2H540.2L542.0 291.4H572.8L574.6 294.2H577.8L579.6 291.4H632.2L634.0 294.2H637.2L639.0 291.4H651.4V303.2" fill="none" stroke="#444" stroke-width="0.55"/>
<circle cx="448.8" cy="306.4" r="2.7" fill="#fff" stroke="#777" stroke-width="0.45"/>
<circle cx="651.4" cy="306.4" r="2.7" fill="#fff" stroke="#777" stroke-width="0.45"/>
<path d="M448.8 309.4V318.2M651.4 309.4V318.2" fill="none" stroke="#999" stroke-width="0.35"/>
<rect x="451.8" y="293.0" width="6.4" height="9.6" rx="1.4" fill="#6a6a6a" stroke="#222" stroke-width="0.5"/>
<rect x="452.8" y="294.8" width="2.6" height="5.4" fill="#999" stroke="#333" stroke-width="0.3"/>
<path d="M435.4 296.6H454.4V299.0H435.4" fill="#ccc" stroke="#222" stroke-width="0.6"/>
<path d="M435.4 297.8H453.6" fill="none" stroke="#555" stroke-width="0.4"/>
<rect x="532.6" y="309.2" width="9.2" height="9.2" fill="#fff" stroke="#555" stroke-width="0.4"/>
<circle cx="537.4" cy="313.0" r="2.5" fill="#aaa" stroke="#4a4a4a" stroke-width="0.9"/>
<circle cx="537.4" cy="313.0" r="0.7" fill="#333" stroke="none" stroke-width="0"/>
<rect x="533.4" y="316.6" width="7.6" height="1.2" fill="#888" stroke="none" stroke-width="0"/>
<rect x="545.0" y="309.2" width="34.8" height="9.6" fill="#fff" stroke="#555" stroke-width="0.4"/>
<rect x="545.0" y="316.8" width="34.8" height="2.1" fill="#111" stroke="none" stroke-width="0"/>
<rect x="547.0" y="311.0" width="8.0" height="5.2" fill="#fff" stroke="#777" stroke-width="0.3"/>
<path d="M548.0 314.6H554.0" fill="none" stroke="#555" stroke-width="0.9"/>
<path d="M548.6 313.2H553.4" fill="none" stroke="#888" stroke-width="0.35"/>
<rect x="557.8" y="311.0" width="8.4" height="5.2" fill="#fff" stroke="#777" stroke-width="0.3"/>
<path d="M558.8 314.6H565.2" fill="none" stroke="#555" stroke-width="0.9"/>
<path d="M559.4 313.2H564.6" fill="none" stroke="#888" stroke-width="0.35"/>
<rect x="569.0" y="311.0" width="9.2" height="5.2" fill="#fff" stroke="#777" stroke-width="0.3"/>
<path d="M570.0 314.6H577.2" fill="none" stroke="#555" stroke-width="0.9"/>
<path d="M570.6 313.2H576.6" fill="none" stroke="#888" stroke-width="0.35"/>
<rect x="545.6" y="309.8" width="2.2" height="1.0" fill="#444" stroke="none" stroke-width="0"/>
<rect x="553.4" y="309.8" width="4.2" height="1.0" fill="#666" stroke="none" stroke-width="0"/>
<rect x="592.0" y="301.2" width="8.8" height="17.4" fill="#fff" stroke="#555" stroke-width="0.4"/>
<rect x="592.0" y="316.6" width="8.8" height="2.0" fill="#111" stroke="none" stroke-width="0"/>
<rect x="593.0" y="302.4" width="4.6" height="0.9" fill="#777" stroke="none" stroke-width="0"/>
<circle cx="596.4" cy="312.4" r="2.7" fill="#555" stroke="#222" stroke-width="0.9"/>
<circle cx="596.4" cy="312.4" r="0.9" fill="#bbb" stroke="none" stroke-width="0"/>
<rect x="596.8" y="294.8" width="18.0" height="5.9" fill="#fff" stroke="#555" stroke-width="0.4"/>
<rect x="601.4" y="301.4" width="13.4" height="6.6" fill="#fff" stroke="#555" stroke-width="0.4"/>
<rect x="601.4" y="308.6" width="8.0" height="9.9" fill="#fff" stroke="#555" stroke-width="0.4"/>
<rect x="597.8" y="296.2" width="2.6" height="0.8" fill="#777" stroke="none" stroke-width="0"/>
<rect x="597.8" y="298.0" width="2.0" height="0.8" fill="#999" stroke="none" stroke-width="0"/>
<rect x="609.4" y="296.4" width="4.0" height="0.8" fill="#888" stroke="none" stroke-width="0"/>
<rect x="609.4" y="298.2" width="3.0" height="0.8" fill="#aaa" stroke="none" stroke-width="0"/>
<rect x="609.4" y="303.4" width="3.0" height="0.8" fill="#999" stroke="none" stroke-width="0"/>
<rect x="602.4" y="316.8" width="5.8" height="0.9" fill="#888" stroke="none" stroke-width="0"/>
<circle cx="605.4" cy="298.0" r="2.2" fill="#ccc" stroke="#333" stroke-width="0.8"/>
<circle cx="605.4" cy="298.0" r="0.7" fill="#444" stroke="none" stroke-width="0"/>
<circle cx="605.4" cy="304.8" r="2.2" fill="#ccc" stroke="#333" stroke-width="0.8"/>
<circle cx="605.4" cy="304.8" r="0.7" fill="#444" stroke="none" stroke-width="0"/>
<circle cx="605.4" cy="312.8" r="2.2" fill="#ccc" stroke="#333" stroke-width="0.8"/>
<circle cx="605.4" cy="312.8" r="0.7" fill="#444" stroke="none" stroke-width="0"/>
<path d="M517.9 277V325.6H551.2V312.4" fill="none" stroke="#555" stroke-width="1.2" stroke-linejoin="miter"/>
<path d="M624.0 276V305.8H606.0" fill="none" stroke="#444" stroke-width="1.2" stroke-linejoin="miter"/>
<rect x="457.7" y="389.9" width="39.4" height="11.5" rx="1.6" fill="#fff" stroke="#111" stroke-width="0.9"/>
<path d="M461.2 393.2H477.4M461.2 395.4H477.4" fill="none" stroke="#888" stroke-width="0.4"/>
<circle cx="484.4" cy="397.2" r="1.1" fill="#fff" stroke="#444" stroke-width="0.4"/>
<circle cx="488.4" cy="397.2" r="1.1" fill="#fff" stroke="#444" stroke-width="0.4"/>
<circle cx="492.4" cy="397.2" r="1.1" fill="#fff" stroke="#444" stroke-width="0.4"/>
<path d="M462.2 402.2H470.4M484.4 402.2H492.6" fill="none" stroke="#222" stroke-width="0.9"/>
<path d="M510.6 385.2H528.0A3 3 0 0 1 531.0 388.2V401.4A3 3 0 0 1 528.0 404.4H510.6A3 3 0 0 1 507.6 401.4V399.8L497.0 396.2L507.6 391.4V388.2A3 3 0 0 1 510.6 385.2Z" fill="#fff" stroke="#555" stroke-width="0.6"/>
<rect x="511.8" y="388.0" width="16.8" height="13.0" fill="#fff" stroke="#777" stroke-width="0.4"/>
<path d="M513.4 390.6H527.0" fill="none" stroke="#888" stroke-width="0.3"/>
<rect x="516.4" y="389.0" width="7.6" height="0.8" fill="#777" stroke="none" stroke-width="0"/>
<path d="M515.4 393.3H525.4V396.1L523.8 398.3H517.0L515.4 396.1Z" fill="#999" stroke="#222" stroke-width="0.7"/>
<path d="M517.2 395.6H523.6" stroke="#333" stroke-width="0.8"/>
<path d="M520.6 398.4V406" fill="none" stroke="#8a8a8a" stroke-width="1.1"/>
<path d="M520.6 425V458" fill="none" stroke="#2e2e2e" stroke-width="1.8"/>
<path d="M521.1 425V458" fill="none" stroke="#8a8a8a" stroke-width="0.5"/>
<path d="M517.3000000000001 406.0H523.9V410.3H517.3000000000001Z" fill="#333" stroke="#222" stroke-width="0.4"/>
<path d="M516.2 410.3H525.0V421.0L522.3000000000001 424.6V426.0H518.9V424.6L516.2 421.0Z" fill="#4a4a4a" stroke="#222" stroke-width="0.5" stroke-linejoin="round"/>
<path d="M518.1 412.4H523.1V419.6L521.8000000000001 421.8H519.4L518.1 419.6Z" fill="#747474" stroke="#333" stroke-width="0.3"/>
<circle cx="520.6" cy="416.6" r="0.9" fill="#3a3a3a"/>
<path d="M517.3000000000001 477.0H523.9V472.7H517.3000000000001Z" fill="#333" stroke="#222" stroke-width="0.4"/>
<path d="M516.2 472.7H525.0V462.0L522.3000000000001 458.4V457.0H518.9V458.4L516.2 462.0Z" fill="#4a4a4a" stroke="#222" stroke-width="0.5" stroke-linejoin="round"/>
<path d="M518.1 470.6H523.1V463.4L521.8000000000001 461.2H519.4L518.1 463.4Z" fill="#747474" stroke="#333" stroke-width="0.3"/>
<circle cx="520.6" cy="466.4" r="0.9" fill="#3a3a3a"/>
<path d="M522.4 432.6H526.2" fill="none" stroke="#333" stroke-width="0.5"/>
<path d="M457.3 484.5H679.6V513.7L675.2 519.3H669.8L667.4 521.2H469.6L467.3 519.3H461.7L457.3 513.7Z" fill="#fff" stroke="#1a1a1a" stroke-width="1.0"/>
<path d="M457.3 490.2H679.6" fill="none" stroke="#666" stroke-width="0.5"/>
<path d="M467.9 504.1V492.3H478.6L480.4 495.1H483.6L485.4 492.3H515.9L517.7 495.1H520.8L522.6 492.3H553.3L555.1 495.1H558.3L560.1 492.3H590.8L592.6 495.1H595.7L597.5 492.3H649.9L651.7 495.1H654.9L656.7 492.3H669.0V504.1" fill="none" stroke="#444" stroke-width="0.55"/>
<circle cx="467.3" cy="507.3" r="2.7" fill="#fff" stroke="#777" stroke-width="0.45"/>
<circle cx="669.0" cy="507.3" r="2.7" fill="#fff" stroke="#777" stroke-width="0.45"/>
<path d="M467.3 510.3V519.1M669.0 510.3V519.1" fill="none" stroke="#999" stroke-width="0.35"/>
<rect x="470.2" y="493.9" width="6.4" height="9.6" rx="1.4" fill="#6a6a6a" stroke="#222" stroke-width="0.5"/>
<rect x="471.2" y="495.7" width="2.6" height="5.4" fill="#999" stroke="#333" stroke-width="0.3"/>
<path d="M453.9 497.5H472.8V499.9H453.9" fill="#ccc" stroke="#222" stroke-width="0.6"/>
<path d="M453.9 498.7H472.0" fill="none" stroke="#555" stroke-width="0.4"/>
<rect x="550.7" y="510.1" width="9.2" height="9.2" fill="#fff" stroke="#555" stroke-width="0.4"/>
<circle cx="555.5" cy="513.9" r="2.5" fill="#aaa" stroke="#4a4a4a" stroke-width="0.9"/>
<circle cx="555.5" cy="513.9" r="0.7" fill="#333" stroke="none" stroke-width="0"/>
<rect x="551.5" y="517.5" width="7.6" height="1.2" fill="#888" stroke="none" stroke-width="0"/>
<rect x="563.1" y="510.1" width="34.7" height="9.6" fill="#fff" stroke="#555" stroke-width="0.4"/>
<rect x="563.1" y="517.7" width="34.7" height="2.1" fill="#111" stroke="none" stroke-width="0"/>
<rect x="565.1" y="511.9" width="8.0" height="5.2" fill="#fff" stroke="#777" stroke-width="0.3"/>
<path d="M566.1 515.5H572.0" fill="none" stroke="#555" stroke-width="0.9"/>
<path d="M566.7 514.1H571.4" fill="none" stroke="#888" stroke-width="0.35"/>
<rect x="575.8" y="511.9" width="8.4" height="5.2" fill="#fff" stroke="#777" stroke-width="0.3"/>
<path d="M576.8 515.5H583.2" fill="none" stroke="#555" stroke-width="0.9"/>
<path d="M577.4 514.1H582.6" fill="none" stroke="#888" stroke-width="0.35"/>
<rect x="587.0" y="511.9" width="9.2" height="5.2" fill="#fff" stroke="#777" stroke-width="0.3"/>
<path d="M588.0 515.5H595.1" fill="none" stroke="#555" stroke-width="0.9"/>
<path d="M588.6 514.1H594.5" fill="none" stroke="#888" stroke-width="0.35"/>
<rect x="563.7" y="510.7" width="2.2" height="1.0" fill="#444" stroke="none" stroke-width="0"/>
<rect x="571.4" y="510.7" width="4.2" height="1.0" fill="#666" stroke="none" stroke-width="0"/>
<rect x="609.9" y="502.1" width="8.8" height="17.4" fill="#fff" stroke="#555" stroke-width="0.4"/>
<rect x="609.9" y="517.5" width="8.8" height="2.0" fill="#111" stroke="none" stroke-width="0"/>
<rect x="610.9" y="503.3" width="4.6" height="0.9" fill="#777" stroke="none" stroke-width="0"/>
<rect x="611.7" y="511.1" width="5.2" height="5.2" rx="0.6" fill="#fff" stroke="#222" stroke-width="0.9"/>
<rect x="613.1" y="512.5" width="2.4" height="2.4" fill="#555" stroke="none" stroke-width="0"/>
<rect x="614.7" y="495.7" width="17.9" height="5.9" fill="#fff" stroke="#555" stroke-width="0.4"/>
<rect x="619.2" y="502.3" width="13.3" height="6.6" fill="#fff" stroke="#555" stroke-width="0.4"/>
<rect x="619.2" y="509.5" width="8.0" height="9.9" fill="#fff" stroke="#555" stroke-width="0.4"/>
<rect x="615.7" y="497.1" width="2.6" height="0.8" fill="#777" stroke="none" stroke-width="0"/>
<rect x="615.7" y="498.9" width="2.0" height="0.8" fill="#999" stroke="none" stroke-width="0"/>
<rect x="627.2" y="497.3" width="4.0" height="0.8" fill="#888" stroke="none" stroke-width="0"/>
<rect x="627.2" y="499.1" width="3.0" height="0.8" fill="#aaa" stroke="none" stroke-width="0"/>
<rect x="627.2" y="504.3" width="3.0" height="0.8" fill="#999" stroke="none" stroke-width="0"/>
<rect x="620.2" y="517.7" width="5.8" height="0.9" fill="#888" stroke="none" stroke-width="0"/>
<circle cx="623.2" cy="498.9" r="2.2" fill="#ccc" stroke="#333" stroke-width="0.8"/>
<circle cx="623.2" cy="498.9" r="0.7" fill="#444" stroke="none" stroke-width="0"/>
<circle cx="623.2" cy="505.7" r="2.2" fill="#ccc" stroke="#333" stroke-width="0.8"/>
<circle cx="623.2" cy="505.7" r="0.7" fill="#444" stroke="none" stroke-width="0"/>
<circle cx="623.2" cy="513.7" r="2.2" fill="#ccc" stroke="#333" stroke-width="0.8"/>
<circle cx="623.2" cy="513.7" r="0.7" fill="#444" stroke="none" stroke-width="0"/>
<path d="M520.6 477V481.7H581.9V512.6" fill="none" stroke="#555" stroke-width="1.2" stroke-linejoin="miter"/>
<g stroke-linejoin="round">
<path d="M550.2 34.4L581.8 19.6L600.0 31.8L572.0 46.4Z" fill="#fff" stroke="#222" stroke-width="0.6"/>
<path d="M550.2 34.4V35.8L572.0 48.2L600.0 33.4V31.8" fill="none" stroke="#222" stroke-width="0.6"/>
<path d="M572.0 46.4V48.2" fill="none" stroke="#333" stroke-width="0.4"/>
<path d="M573.4 30.6L577.6 28.6" fill="none" stroke="#333" stroke-width="1.0"/>
<path d="M574.8 32.2L578.6 30.4" fill="none" stroke="#777" stroke-width="0.5"/>
<path d="M581.6 21.6L584.4 23.2" fill="none" stroke="#777" stroke-width="0.4"/>
<path d="M555.6 35.0L565.0 30.6M557.6 36.4L564.4 33.2M559.6 37.8L569.0 33.4M561.6 39.2L567.6 36.4" fill="none" stroke="#888" stroke-width="0.35"/>
</g>
</svg>
</body></html>
